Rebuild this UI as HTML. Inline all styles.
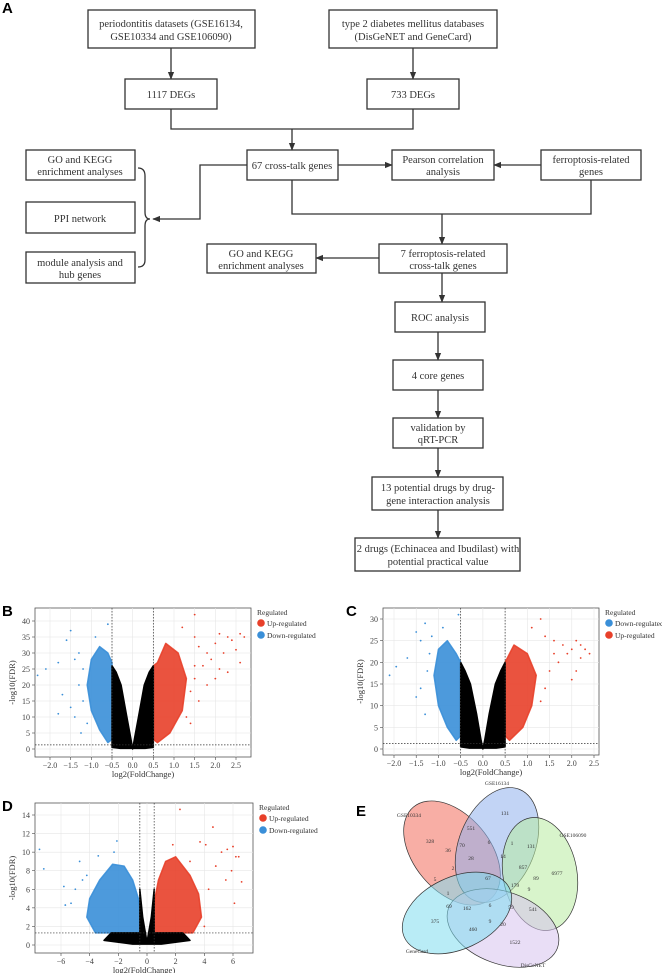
<!DOCTYPE html>
<html><head><meta charset="utf-8"><style>
html,body{margin:0;padding:0;background:#fff}
svg{display:block}
text{font-family:"Liberation Serif",serif;fill:#333}
.lbl{font-family:"Liberation Sans",sans-serif;font-weight:bold;fill:#000;font-size:15px}
.tk{font-size:8px;fill:#444}
.box{fill:#fff;stroke:#333;stroke-width:1.3}
.ln{fill:none;stroke:#333;stroke-width:1.3}
</style></head><body>
<svg id="fig" width="662" height="973" viewBox="0 0 662 973" xmlns="http://www.w3.org/2000/svg">
<defs><marker id="ah" viewBox="0 0 10 10" refX="9" refY="5" markerWidth="6" markerHeight="6" orient="auto"><path d="M0,1 L10,5 L0,9z" fill="#333"/></marker></defs>
<g id="flow" font-size="10.5">
<text class="lbl" x="2" y="13">A</text>
<g><rect class="box" x="88" y="10" width="167" height="38"/><text x="171" y="27" text-anchor="middle">periodontitis datasets (GSE16134,</text><text x="171" y="40" text-anchor="middle">GSE10334 and GSE106090)</text></g>
<g><rect class="box" x="329" y="10" width="168" height="38"/><text x="413" y="27" text-anchor="middle">type 2 diabetes mellitus databases</text><text x="413" y="40" text-anchor="middle">(DisGeNET and GeneCard)</text></g>
<g><rect class="box" x="125" y="79" width="92" height="30"/><text x="171" y="98" text-anchor="middle">1117 DEGs</text></g>
<g><rect class="box" x="367" y="79" width="92" height="30"/><text x="413" y="98" text-anchor="middle">733 DEGs</text></g>
<g><rect class="box" x="247" y="150" width="91" height="30"/><text x="292" y="169" text-anchor="middle">67 cross-talk genes</text></g>
<g><rect class="box" x="392" y="150" width="102" height="30"/><text x="443" y="163" text-anchor="middle">Pearson correlation</text><text x="443" y="175" text-anchor="middle">analysis</text></g>
<g><rect class="box" x="541" y="150" width="100" height="30"/><text x="591" y="163" text-anchor="middle">ferroptosis-related</text><text x="591" y="175" text-anchor="middle">genes</text></g>
<g><rect class="box" x="26" y="150" width="109" height="30"/><text x="80" y="163" text-anchor="middle">GO and KEGG</text><text x="80" y="175" text-anchor="middle">enrichment analyses</text></g>
<g><rect class="box" x="26" y="202" width="109" height="31"/><text x="80" y="222" text-anchor="middle">PPI network</text></g>
<g><rect class="box" x="26" y="252" width="109" height="31"/><text x="80" y="266" text-anchor="middle">module analysis and</text><text x="80" y="278" text-anchor="middle">hub genes</text></g>
<g><rect class="box" x="379" y="244" width="128" height="29"/><text x="443" y="257" text-anchor="middle">7 ferroptosis-related</text><text x="443" y="269" text-anchor="middle">cross-talk genes</text></g>
<g><rect class="box" x="207" y="244" width="109" height="29"/><text x="261" y="257" text-anchor="middle">GO and KEGG</text><text x="261" y="269" text-anchor="middle">enrichment analyses</text></g>
<g><rect class="box" x="395" y="302" width="90" height="30"/><text x="440" y="321" text-anchor="middle">ROC analysis</text></g>
<g><rect class="box" x="393" y="360" width="90" height="30"/><text x="438" y="379" text-anchor="middle">4 core genes</text></g>
<g><rect class="box" x="393" y="418" width="90" height="30"/><text x="438" y="431" text-anchor="middle">validation by</text><text x="438" y="443" text-anchor="middle">qRT-PCR</text></g>
<g><rect class="box" x="372" y="477" width="131" height="33"/><text x="438" y="491" text-anchor="middle">13 potential drugs by drug-</text><text x="438" y="504" text-anchor="middle">gene interaction analysis</text></g>
<g><rect class="box" x="355" y="538" width="165" height="33"/><text x="438" y="552" text-anchor="middle">2 drugs (Echinacea and Ibudilast) with</text><text x="438" y="565" text-anchor="middle">potential practical value</text></g>
<g>
<path class="ln" d="M171,48V79" marker-end="url(#ah)"/>
<path class="ln" d="M413,48V79" marker-end="url(#ah)"/>
<path class="ln" d="M171,109V129H413V109"/>
<path class="ln" d="M292,129V150" marker-end="url(#ah)"/>
<path class="ln" d="M338,165H392" marker-end="url(#ah)"/>
<path class="ln" d="M541,165H494" marker-end="url(#ah)"/>
<path class="ln" d="M247,165H200V219H153" marker-end="url(#ah)"/>
<path class="ln" d="M138,168Q145,168 145,176V212Q145,219 150,219Q145,219 145,226V260Q145,267 138,267"/>
<path class="ln" d="M292,180V214H591V180"/>
<path class="ln" d="M442,214V244" marker-end="url(#ah)"/>
<path class="ln" d="M379,258H316" marker-end="url(#ah)"/>
<path class="ln" d="M442,273V302" marker-end="url(#ah)"/>
<path class="ln" d="M438,332V360" marker-end="url(#ah)"/>
<path class="ln" d="M438,390V418" marker-end="url(#ah)"/>
<path class="ln" d="M438,448V477" marker-end="url(#ah)"/>
<path class="ln" d="M438,510V538" marker-end="url(#ah)"/>
</g>
</g>
<g id="vB"></g>
<g id="vC"></g>
<g id="vD"></g>
<g id="venn"></g>
</svg>
<script>
const NS="http://www.w3.org/2000/svg";
// ---- Volcano data (B) ----
const bXTicks=[-2,-1.5,-1,-0.5,0,0.5,1,1.5,2,2.5];
const bYTicks=[0,5,10,15,20,25,30,35,40];
const bBlack=[[-0.5,0.5],[-0.5,26],[-0.4,24],[-0.28,20],[-0.14,10],[-0.04,3],[0,0],[0.04,3],[0.14,10],[0.28,20],[0.4,24],[0.5,26],[0.5,0.5],[0.3,0.2],[-0.3,0.2]];
const bDown=[[-0.5,3],[-0.6,2],[-0.8,6],[-1.0,12],[-1.1,20],[-1.0,28],[-0.8,32],[-0.6,30],[-0.5,27]];
const bUp=[[0.5,3],[0.6,2],[0.9,5],[1.2,12],[1.3,22],[1.1,30],[0.8,33],[0.6,27],[0.5,26]];
const bDownOut=[[-2.3,23],[-2.1,25],[-1.8,27],[-1.7,17],[-1.8,11],[-1.5,37],[-1.6,34],[-1.4,28],[-1.5,13],[-1.4,10],[-1.3,20],[-1.2,25],[-1.2,15],[-0.9,35],[-0.6,39],[-1.3,30],[-1.1,8],[-1.25,5]];
const bUpOut=[[1.5,42],[1.2,38],[1.5,35],[1.6,32],[1.8,30],[2.0,33],[2.1,36],[2.3,35],[2.4,34],[2.6,36],[2.7,35],[2.5,31],[2.2,30],[1.9,28],[1.7,26],[2.1,25],[2.6,27],[2.3,24],[1.5,22],[1.4,18],[1.6,15],[1.3,10],[1.4,8],[2.0,22],[1.8,20],[1.5,26]];
// ---- Volcano data (C) ----
const cXTicks=[-2,-1.5,-1,-0.5,0,0.5,1,1.5,2,2.5];
const cYTicks=[0,5,10,15,20,25,30];
const cBlack=[[-0.5,0.5],[-0.5,20],[-0.4,18],[-0.28,15],[-0.14,8],[-0.04,2],[0,0],[0.04,2],[0.14,8],[0.28,15],[0.4,18],[0.5,20],[0.5,0.5],[0.3,0.2],[-0.3,0.2]];
const cDown=[[-0.5,3],[-0.6,2],[-0.8,5],[-1.0,10],[-1.1,17],[-1.0,23],[-0.8,25],[-0.6,22],[-0.5,20]];
const cUp=[[0.5,3],[0.6,2],[0.9,5],[1.1,10],[1.2,17],[1.0,22],[0.7,24],[0.55,21],[0.5,20]];
const cDownOut=[[-2.1,17],[-1.95,19],[-1.7,21],[-1.5,12],[-1.5,27],[-1.4,25],[-1.3,29],[-1.3,8],[-1.4,14],[-1.2,22],[-1.25,18],[-0.9,28],[-0.55,31],[-1.15,26]];
const cUpOut=[[1.3,30],[1.1,28],[1.4,26],[1.6,25],[1.8,24],[2.0,23],[2.1,25],[2.2,24],[2.3,23],[2.4,22],[2.2,21],[1.9,22],[1.7,20],[2.1,18],[1.5,18],[1.4,14],[1.3,11],[1.6,22],[2.0,16]];
// ---- Volcano data (D) ----
const dXTicks=[-6,-4,-2,0,2,4,6];
const dYTicks=[0,2,4,6,8,10,12,14];
const dBlack=[[-3,0.5],[-2.5,1.3],[-0.5,1.3],[-0.5,6],[-0.3,3],[0,0.3],[0.3,3],[0.5,6],[0.5,1.3],[2.5,1.3],[3,0.5],[1,0.1],[-1,0.1]];
const dDown=[[-0.5,1.3],[-3.6,1.3],[-4.2,3],[-4,5],[-3.3,7],[-2.4,8.7],[-1.6,8.5],[-1,7],[-0.6,5],[-0.5,4]];
const dUp=[[0.5,1.3],[3.2,1.3],[3.8,3],[3.6,5.5],[3,7.5],[2,9.5],[1.3,9],[0.8,7],[0.55,5],[0.5,4]];
const dDownOut=[[-7.5,10.3],[-7.2,8.2],[-5.8,6.3],[-5.7,4.3],[-5.3,4.5],[-4.7,9],[-5,6],[-4.5,7],[-3.4,9.6],[-2.1,11.2],[-2.3,10],[-4.2,7.5]];
const dUpOut=[[2.3,14.6],[4.6,12.7],[3.7,11.1],[4.1,10.8],[5.2,10],[5.6,10.3],[6,10.6],[6.2,9.5],[6.4,9.5],[6.6,6.8],[5.9,8],[5.5,7],[6.1,4.5],[4.8,8.5],[4.3,6],[1.8,10.8],[3,9],[4,2]];

function mk(tag,attrs,parent){const e=document.createElementNS(NS,tag);for(const k in attrs)e.setAttribute(k,attrs[k]);parent.appendChild(e);return e;}
function volcano(g,o){
  const sx=v=>o.x0+(v-o.xmin)/(o.xmax-o.xmin)*(o.x1-o.x0);
  const sy=v=>o.y0-(v-o.ymin)/(o.ymax-o.ymin)*(o.y0-o.y1);
  const L=o.fx0,R=o.fx1,T=o.fy0,B=o.fy1;
  mk('rect',{x:L,y:T,width:R-L,height:B-T,fill:'#fff',stroke:'#555','stroke-width':0.8},g);
  o.xt.forEach(v=>{const l=mk('line',{x1:sx(v),x2:sx(v),y1:T,y2:B,stroke:'#e6e6e6','stroke-width':0.6},g);
    
    
    mk('line',{x1:sx(v),x2:sx(v),y1:B,y2:B+3,stroke:'#444','stroke-width':0.6},g);
    const t=mk('text',{x:sx(v),y:B+11,'text-anchor':'middle',class:'tk'},g);t.textContent=(Number.isInteger(v)&&o.dec?v.toFixed(1):String(v)).replace('-','\u2212');
    
    });
  o.yt.forEach(v=>{mk('line',{x1:L,x2:R,y1:sy(v),y2:sy(v),stroke:'#e6e6e6','stroke-width':0.6},g);
    mk('line',{x1:L-3,x2:L,y1:sy(v),y2:sy(v),stroke:'#444','stroke-width':0.6},g);
    const t=mk('text',{x:L-5,y:sy(v)+3,'text-anchor':'end',class:'tk'},g);t.textContent=v;
    
    });
  const poly=(pts,col,name,op)=>{const p=mk('polygon',{points:pts.map(q=>sx(q[0])+','+sy(q[1])).join(' '),fill:col,'fill-opacity':op,stroke:col,'stroke-opacity':op,'stroke-width':1.5,'stroke-linejoin':'round'},g);
    
    };
  const BL='#3a8fd8',RD='#e8402a';
  poly(o.down,BL,'down-regulated-cloud',0.9);poly(o.up,RD,'up-regulated-cloud',0.9);poly(o.black,'#000','non-significant-cloud',1);
  const dots=(arr,col,name)=>arr.forEach(q=>{const c=mk('circle',{cx:sx(q[0]),cy:sy(q[1]),r:0.9,fill:col},g);
    
    });
  dots(o.dOut,BL,'down-regulated-point');dots(o.uOut,RD,'up-regulated-point');
  [-0.5,0.5].forEach(v=>mk('line',{x1:sx(v),x2:sx(v),y1:T,y2:B,stroke:'#333','stroke-width':0.7,'stroke-dasharray':'1.5,1.5'},g));
  mk('line',{x1:L,x2:R,y1:sy(1.3),y2:sy(1.3),stroke:'#333','stroke-width':0.7,'stroke-dasharray':'1.5,1.5'},g);
  let t=mk('text',{x:(L+R)/2,y:B+20,'text-anchor':'middle','font-size':8.5},g);t.textContent='log2(FoldChange)';
  
  t=mk('text',{x:0,y:0,'text-anchor':'middle','font-size':8.5,transform:`translate(${L-20},${(T+B)/2}) rotate(-90)`},g);t.textContent='-log10(FDR)';
  
  t=mk('text',{x:o.lbx,y:T+8,class:'lbl'},g);t.textContent=o.label;
  
  const lx=R+6;
  t=mk('text',{x:lx,y:T+7,'font-size':7.5},g);t.textContent='Regulated';
  
  o.legend.forEach((e,i)=>{const yy=T+18+i*12;
    const c=mk('circle',{cx:lx+4,cy:yy-3,r:3.8,fill:e[1]},g);
    
    const tt=mk('text',{x:lx+10,y:yy,'font-size':7.5},g);tt.textContent=e[0];
    });
}
volcano(document.getElementById('vB'),{fx0:35,fx1:251,fy0:608,fy1:757,xmin:-2,xmax:2.5,x0:50,x1:236,ymin:0,ymax:40,y0:749,y1:621,xt:bXTicks,yt:bYTicks,black:bBlack,down:bDown,up:bUp,dOut:bDownOut,uOut:bUpOut,dec:true,label:'B',lbx:2,legend:[['Up-regulated','#e8402a'],['Down-regulated','#3a8fd8']]});
volcano(document.getElementById('vC'),{fx0:383,fx1:599,fy0:608,fy1:755,xmin:-2,xmax:2.5,x0:394,x1:594,ymin:0,ymax:30,y0:749,y1:619,xt:cXTicks,yt:cYTicks,black:cBlack,down:cDown,up:cUp,dOut:cDownOut,uOut:cUpOut,dec:true,label:'C',lbx:346,legend:[['Down-regulated','#3a8fd8'],['Up-regulated','#e8402a']]});
volcano(document.getElementById('vD'),{fx0:35,fx1:253,fy0:803,fy1:953,xmin:-6,xmax:6,x0:61,x1:233,ymin:0,ymax:14,y0:945,y1:815,xt:dXTicks,yt:dYTicks,black:dBlack,down:dDown,up:dUp,dOut:dDownOut,uOut:dUpOut,dec:false,label:'D',lbx:2,legend:[['Up-regulated','#e8402a'],['Down-regulated','#3a8fd8']]});

// ---- Venn (E) ----
const vennSets=['GSE10334','GSE16134','GSE106090','DisGeNET','GeneCard'];
const vennCounts=[328,131,6977,1522,375,551,36,70,6,1,131,28,14,857,89,2,5,67,179,9,1,69,162,6,59,541,9,20,460];
const vennCountPos=[[430,841],[505,813],[557,873],[515,942],[435,921],[471,828],[448,850],[462,845],[489,842],[512,843],[531,846],[471,858],[503,856],[523,867],[536,878],[453,868],[435,879],[488,878],[515,885],[529,889],[448,893],[449,906],[467,908],[490,905],[511,907],[533,909],[490,921],[503,924],[473,929]];
const vg=document.getElementById('venn');
let tl=mk('text',{x:356,y:816,class:'lbl'},vg);tl.textContent='E';

const ells=[[452,853,60,38,50,'#f26b5b'],[497,845,60,38,112,'#8fb0ec'],[540,874,57,37,80,'#b8eba0'],[503,928,58,36,20,'#d7c3ee'],[457,913,58,36,-25,'#7fdcee']];
ells.forEach((e,i)=>{const el=mk('ellipse',{cx:e[0],cy:e[1],rx:e[2],ry:e[3],transform:`rotate(${e[4]} ${e[0]} ${e[1]})`,fill:e[5],'fill-opacity':0.55,stroke:'#333','stroke-width':0.7},vg);
  
  });
const setLabelPos=[[409,817],[497,785],[573,837],[533,967],[417,953]];
vennSets.forEach((s,i)=>{const t=mk('text',{x:setLabelPos[i][0],y:setLabelPos[i][1],'text-anchor':'middle','font-size':5.5},vg);t.textContent=s;
  
  });
vennCounts.forEach((c,i)=>{const t=mk('text',{x:vennCountPos[i][0],y:vennCountPos[i][1]+2,'text-anchor':'middle','font-size':5.5,fill:'#222'},vg);t.textContent=c;
  
  });
</script>
</body></html>
